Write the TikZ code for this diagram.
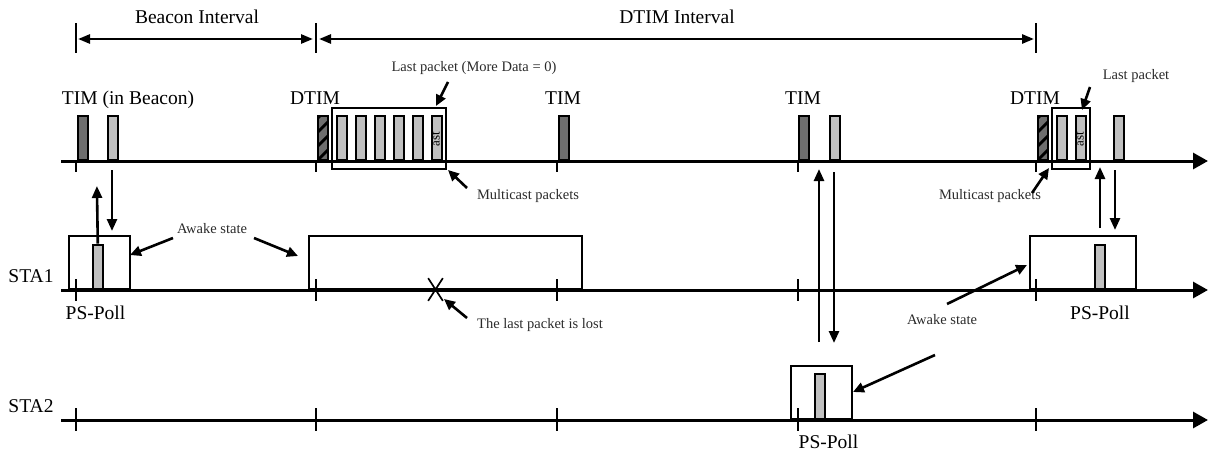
\documentclass[tikz,border=0pt]{standalone}
\usepackage{fontspec}
\setmainfont{Liberation Serif}
\usetikzlibrary{arrows.meta,shapes.misc}
\definecolor{dg}{HTML}{6E6E6E}
\definecolor{lg}{HTML}{C0C0C0}
\definecolor{txt}{HTML}{2A2A2A}
\begin{document}
\begin{tikzpicture}[x=1pt,y=-1pt,
  big/.style={font=\fontsize{19.5}{20}\selectfont, inner sep=0pt, anchor=base},
  small/.style={font=\fontsize{14.5}{15}\selectfont, text=txt, inner sep=0pt, anchor=base},
  pkt/.style={draw, line width=1.8pt, minimum width=10pt, minimum height=44.5pt, inner sep=0pt, anchor=south west, fill=lg},
  tim/.style={pkt, fill=dg},
  hatch/.style={pkt, fill=dg, path picture={
      \foreach \k in {-2,...,3}{
        \draw[line width=2.8pt] ([yshift=\k*14pt]path picture bounding box.south west) -- ++(30,-30);
      }}},
  poll/.style={draw, line width=1.8pt, fill=lg, minimum width=10pt, inner sep=0pt, anchor=south west},
  awake/.style={draw, line width=1.8pt, inner sep=0pt, anchor=south west},
  mcbox/.style={draw, line width=1.8pt, inner sep=0pt, anchor=north west, minimum height=61pt},
  axis/.style={line width=3pt, -{Triangle[length=15pt,width=16pt]}},
  tick/.style={line width=1.7pt},
  dim/.style={line width=2.6pt, {Triangle[length=12pt,width=9pt]}-{Triangle[length=12pt,width=9pt]}},
  call/.style={line width=2.6pt, -{Triangle[length=11pt,width=10pt]}},
  sig/.style={line width=2.6pt, -{Triangle[length=12pt,width=10pt]}},
  asttext/.style={rotate=90, font=\fontsize{13}{13}\selectfont, inner sep=0pt},
]
\useasboundingbox (0,0) rectangle (1212,450);

% ---------- interval dimension lines ----------
\coordinate (bar0t) at (76,23);  \coordinate (bar0b) at (76,53);
\coordinate (bar1t) at (316,23); \coordinate (bar1b) at (316,53);
\coordinate (bar2t) at (1036,23);\coordinate (bar2b) at (1036,53);
\draw[tick] (bar0t) -- (bar0b);
\draw[tick] (bar1t) -- (bar1b);
\draw[tick] (bar2t) -- (bar2b);
\coordinate (bi0) at (78,39);  \coordinate (bi1) at (313,39);
\coordinate (di0) at (319,39); \coordinate (di1) at (1034,39);
\draw[dim] (bi0) -- (bi1);
\draw[dim] (di0) -- (di1);
\node[big] (lbi) at (197,23) {Beacon Interval};
\node[big] (ldi) at (677,23) {DTIM Interval};

% ---------- AP axis ----------
\node[mcbox, minimum width=114pt] (mc1) at (331,107) {};
\node[mcbox, minimum width=38pt] (mc2) at (1051,107) {};

\node[tim] (t1) at (76.9,161) {};
\node[pkt] (t2) at (106.9,161) {};
\node[hatch] (h1) at (316.9,161) {};
\node[pkt] (m1) at (335.9,161) {};
\node[pkt] (m2) at (354.9,161) {};
\node[pkt] (m3) at (373.9,161) {};
\node[pkt] (m4) at (392.9,161) {};
\node[pkt] (m5) at (411.9,161) {};
\node[pkt] (m6) at (430.9,161) {};
\node[asttext] (ast1) at (436,139) {ast};
\node[tim] (t3) at (557.9,161) {};
\node[tim] (t4) at (797.9,161) {};
\node[pkt] (t5) at (828.9,161) {};
\node[hatch] (h2) at (1036.9,161) {};
\node[pkt] (m7) at (1055.9,161) {};
\node[pkt] (m8) at (1074.9,161) {};
\node[asttext] (ast2) at (1080,139) {ast};
\node[pkt] (t6) at (1112.9,161) {};

\coordinate (ap0) at (61,161); \coordinate (ap1) at (1208,161);
\draw[axis] (ap0) -- (ap1);
\foreach \x in {76,316,557,798,1036}{
  \coordinate (apt\x) at (\x,161); \coordinate (apb\x) at (\x,172);
  \draw[tick] (apt\x) -- (apb\x);
}

\node[big] (ltim1) at (128,104) {TIM (in Beacon)};
\node[big] (ldtim1) at (315,104) {DTIM};
\node[big] (ltim2) at (563,104) {TIM};
\node[big] (ltim3) at (803,104) {TIM};
\node[big] (ldtim2) at (1035,104) {DTIM};

\node[small] (llp1) at (474,71) {Last packet (More Data = 0)};
\coordinate (llp1a) at (448,82); \coordinate (llp1b) at (436,106);
\draw[call] (llp1a) -- (llp1b);
\node[small] (lmc1) at (528,199) {Multicast packets};
\coordinate (lmc1a) at (467,188); \coordinate (lmc1b) at (448,170);
\draw[call] (lmc1a) -- (lmc1b);

\node[small] (llp2) at (1136,79) {Last packet};
\coordinate (llp2a) at (1090,87); \coordinate (llp2b) at (1082,110);
\draw[call] (llp2a) -- (llp2b);
\node[small] (lmc2) at (990,199) {Multicast packets};
\coordinate (lmc2a) at (1032,193); \coordinate (lmc2b) at (1049,168);
\draw[call] (lmc2a) -- (lmc2b);

% ---------- STA1 ----------
\node[awake, minimum width=61pt, minimum height=53pt] (a1) at (68,290) {};
\node[awake, minimum width=273pt, minimum height=53pt] (a2) at (308,290) {};
\node[awake, minimum width=106pt, minimum height=53pt] (a3) at (1029,290) {};
\node[poll, minimum height=44.5pt] (p1) at (91.9,290) {};
\node[poll, minimum height=44.5pt] (p3) at (1093.9,290) {};

\coordinate (s10) at (61,290); \coordinate (s11) at (1208,290);
\draw[axis] (s10) -- (s11);
\foreach \x in {76,316,557,798,1036}{
  \coordinate (s1t\x) at (\x,279); \coordinate (s1b\x) at (\x,301);
  \draw[tick] (s1t\x) -- (s1b\x);
}
\node[draw, cross out, line width=1.7pt, minimum width=13pt, minimum height=21pt, inner sep=0pt] (lost) at (435.5,289.5) {};

\node[big] (lsta1) at (31,282) {STA1};
\node[big] (lpp1) at (95.5,319) {PS-Poll};
\node[big] (lpp3) at (1100,319) {PS-Poll};

\node[small] (law1) at (212,233) {Awake state};
\coordinate (law1a) at (173,238); \coordinate (law1b) at (130,255);
\coordinate (law1c) at (254,238); \coordinate (law1d) at (298,256);
\draw[call] (law1a) -- (law1b);
\draw[call] (law1c) -- (law1d);

\node[small] (llost) at (540,328) {The last packet is lost};
\coordinate (llosta) at (467,318); \coordinate (llostb) at (444,299);
\draw[call] (llosta) -- (llostb);

\node[small] (law2) at (942,324) {Awake state};
\coordinate (law2a) at (947,304); \coordinate (law2b) at (1027,265);
\coordinate (law2c) at (935,355); \coordinate (law2d) at (853,392);
\draw[call] (law2a) -- (law2b);
\draw[call] (law2c) -- (law2d);

% ---------- STA2 ----------
\node[awake, minimum width=61pt, minimum height=53pt] (a4) at (790,420) {};
\node[poll, minimum height=45.5pt] (p2) at (813.9,420) {};
\coordinate (s20) at (61,420); \coordinate (s21) at (1208,420);
\draw[axis] (s20) -- (s21);
\foreach \x in {76,316,557,798,1036}{
  \coordinate (s2t\x) at (\x,408); \coordinate (s2b\x) at (\x,431);
  \draw[tick] (s2t\x) -- (s2b\x);
}
\node[big] (lsta2) at (31,412) {STA2};
\node[big] (lpp2) at (828.5,448) {PS-Poll};

% ---------- signalling arrows ----------
\coordinate (u1) at (96.9,186);
\draw[sig] (p1.north) -- (u1);
\coordinate (d1s) at (112,170); \coordinate (d1e) at (112,231);
\draw[sig] (d1s) -- (d1e);
\coordinate (u2s) at (819,342); \coordinate (u2e) at (819,169);
\draw[sig] (u2s) -- (u2e);
\coordinate (d2s) at (834,172); \coordinate (d2e) at (834,343);
\draw[sig] (d2s) -- (d2e);
\coordinate (u3s) at (1100,228); \coordinate (u3e) at (1100,167);
\draw[sig] (u3s) -- (u3e);
\coordinate (d3s) at (1115,170); \coordinate (d3e) at (1115,230);
\draw[sig] (d3s) -- (d3e);
\end{tikzpicture}
\end{document}
